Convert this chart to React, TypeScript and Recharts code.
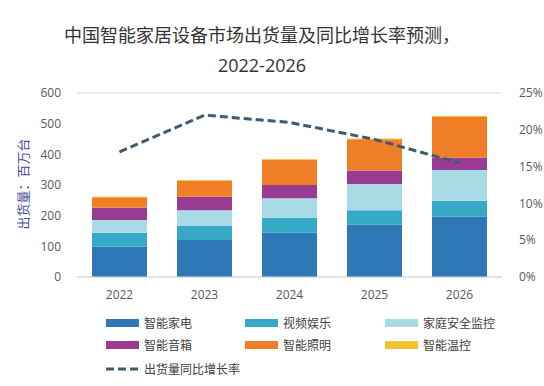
import React from "react";
import {
  ComposedChart,
  Bar,
  Line,
  XAxis,
  YAxis,
  CartesianGrid,
} from "recharts";

const years = ["2022", "2023", "2024", "2025", "2026"];
const appliances = [99, 121, 144, 170, 197];
const videoEnt = [45, 45, 49, 48, 52];
const homeSecurity = [42, 52, 64, 85, 100];
const speakers = [40, 44, 43, 44, 41];
const lighting = [34, 52, 82, 102, 132];
const thermostat = [2, 2, 3, 3, 3];
const growth = [17.0, 22.0, 21.0, 18.7, 15.5];

const leftTicks = [0, 100, 200, 300, 400, 500, 600];
const rightTicks = [0, 5, 10, 15, 20, 25];

const series = [
  { key: "appliances", name: "智能家电", color: "#2e78b7", values: appliances },
  { key: "videoEnt", name: "视频娱乐", color: "#36a9c6", values: videoEnt },
  { key: "homeSecurity", name: "家庭安全监控", color: "#a9dbe6", values: homeSecurity },
  { key: "speakers", name: "智能音箱", color: "#9a3b93", values: speakers },
  { key: "lighting", name: "智能照明", color: "#f07e26", values: lighting },
  { key: "thermostat", name: "智能温控", color: "#f2c230", values: thermostat },
];
const lineName = "出货量同比增长率";
const lineColor = "#3e5b70";

const data = years.map((year, i) => {
  const row: Record<string, string | number> = { year, growth: growth[i] };
  series.forEach((s) => {
    row[s.key] = s.values[i];
  });
  return row;
});

const FONT = '"Open Sans", "Noto Sans CJK SC", sans-serif';
const tickStyle = { fontSize: 12, fill: "#595959", fontFamily: FONT };

function LegendBlock() {
  const cols = [106, 245, 385];
  const rows = [323, 345, 369];
  const items = [
    ...series.map((s) => ({ name: s.name, color: s.color, dashed: false })),
    { name: lineName, color: lineColor, dashed: true },
  ];
  return (
    <>
      {items.map((it, i) => {
        const left = cols[i % 3];
        const top = rows[Math.floor(i / 3)];
        return (
          <div
            key={it.name}
            style={{
              position: "absolute",
              left,
              top: top - 9,
              height: 18,
              display: "flex",
              alignItems: "center",
              fontFamily: FONT,
              fontSize: 12,
              color: "#404040",
              whiteSpace: "nowrap",
            }}
          >
            <svg width={33} height={8} style={{ marginRight: 5 }}>
              {it.dashed ? (
                <line
                  x1={0}
                  y1={4}
                  x2={33}
                  y2={4}
                  stroke={it.color}
                  strokeWidth={3}
                  strokeDasharray="8 4"
                />
              ) : (
                <rect x={0} y={0} width={33} height={8} fill={it.color} />
              )}
            </svg>
            {it.name}
          </div>
        );
      })}
    </>
  );
}

export default function App() {
  return (
    <div
      style={{
        position: "absolute",
        left: 0,
        top: 0,
        width: 544,
        height: 386,
        background: "#fff",
        overflow: "hidden",
      }}
    >
      <div
        style={{
          position: "absolute",
          left: 0,
          top: 20,
          width: 524,
          textAlign: "center",
          fontFamily: FONT,
          fontSize: 18,
          lineHeight: "30px",
          color: "#333",
        }}
      >
        中国智能家居设备市场出货量及同比增长率预测，
        <br />
        2022-2026
      </div>
      <div
        style={{
          position: "absolute",
          left: 22,
          top: 184,
          transform: "translate(-50%, -50%) rotate(-90deg)",
          fontFamily: FONT,
          fontSize: 13,
          color: "#4a4a9c",
          whiteSpace: "nowrap",
        }}
      >
        出货量：百万台
      </div>
      <ComposedChart
        width={544}
        height={386}
        data={data}
        margin={{ top: 93, right: 0, left: 0, bottom: 89 }}
        barCategoryGap={30}
        style={{ position: "absolute", left: 0, top: 0 }}
      >
        <CartesianGrid vertical={false} stroke="#d9d9d9" />
        <XAxis
          dataKey="year"
          tick={tickStyle}
          tickLine={false}
          axisLine={{ stroke: "#d9d9d9" }}
          height={20}
          tickMargin={7}
        />
        <YAxis
          yAxisId="left"
          domain={[0, 600]}
          ticks={leftTicks}
          width={77}
          tick={tickStyle}
          tickLine={false}
          axisLine={false}
          tickMargin={10}
        />
        <YAxis
          yAxisId="right"
          orientation="right"
          domain={[0, 25]}
          ticks={rightTicks}
          tickFormatter={(v) => `${v}%`}
          width={42}
          tick={{ ...tickStyle, textAnchor: "start" }}
          tickLine={false}
          axisLine={false}
          tickMargin={11}
        />
        {series.map((s) => (
          <Bar
            key={s.key}
            yAxisId="left"
            dataKey={s.key}
            name={s.name}
            stackId="a"
            fill={s.color}
            barSize={55}
            isAnimationActive={false}
          />
        ))}
        <Line
          yAxisId="right"
          dataKey="growth"
          name={lineName}
          stroke={lineColor}
          strokeWidth={3}
          strokeDasharray="8 4"
          dot={false}
          activeDot={false}
          type="linear"
          isAnimationActive={false}
        />
      </ComposedChart>
      <LegendBlock />
    </div>
  );
}
